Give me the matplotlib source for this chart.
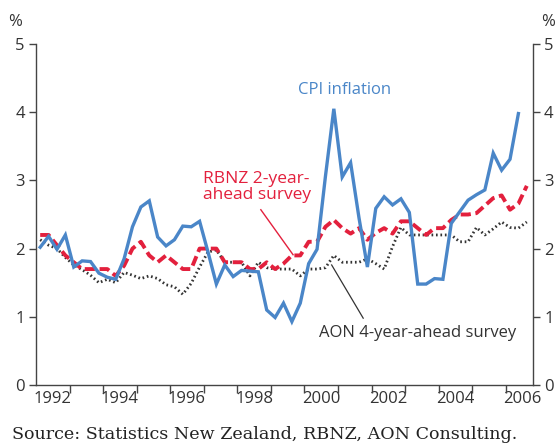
import numpy as np
import matplotlib
matplotlib.use('Agg')
import matplotlib.pyplot as plt
from matplotlib.ticker import FixedLocator, NullFormatter

# 字体
plt.rcParams['font.family'] = ['Open Sans', 'DejaVu Sans']

# 季度数据，从 1992 Q1 开始
cpi = [2.02, 2.18, 1.99, 2.20, 1.73, 1.82, 1.81, 1.64, 1.58, 1.55,
       1.85, 2.32, 2.61, 2.70, 2.17, 2.04, 2.13, 2.33, 2.32, 2.40,
       1.95, 1.48, 1.76, 1.59, 1.68, 1.67, 1.66, 1.10, 0.99, 1.20,
       0.93, 1.20, 1.78, 1.99, 3.06, 4.05, 3.05, 3.26, 2.45, 1.73,
       2.59, 2.76, 2.64, 2.73, 2.53, 1.48, 1.48, 1.56, 1.55, 2.37,
       2.54, 2.71, 2.79, 2.86, 3.40, 3.15, 3.31, 3.98]
rbnz = [2.20, 2.20, 2.05, 1.90, 1.80, 1.70, 1.70, 1.70, 1.70, 1.60,
        1.75, 2.00, 2.10, 1.90, 1.80, 1.90, 1.80, 1.70, 1.70, 2.00,
        2.00, 2.00, 1.80, 1.80, 1.80, 1.70, 1.70, 1.80, 1.70, 1.78,
        1.90, 1.90, 2.10, 2.10, 2.32, 2.42, 2.30, 2.22, 2.30, 2.13,
        2.23, 2.30, 2.22, 2.40, 2.40, 2.30, 2.20, 2.30, 2.30, 2.42,
        2.50, 2.50, 2.52, 2.63, 2.74, 2.78, 2.57, 2.66, 2.92]
aon = [2.13, 2.05, 2.00, 1.87, 1.76, 1.69, 1.61, 1.50, 1.55, 1.50,
       1.65, 1.61, 1.56, 1.60, 1.56, 1.47, 1.44, 1.33, 1.49, 1.73,
       1.95, 1.98, 1.80, 1.80, 1.80, 1.60, 1.80, 1.72, 1.70, 1.70,
       1.70, 1.60, 1.70, 1.70, 1.72, 1.90, 1.80, 1.80, 1.80, 1.85,
       1.78, 1.70, 2.03, 2.31, 2.20, 2.20, 2.20, 2.20, 2.20, 2.20,
       2.10, 2.10, 2.31, 2.20, 2.29, 2.39, 2.31, 2.30, 2.39]
year_labels = ['1992', '1994', '1996', '1998', '2000', '2002', '2004', '2006']

# 季度中点
t_cpi = 1992 + (np.arange(len(cpi)) + 0.5) / 4
t_srv = 1992 + (np.arange(len(rbnz)) + 0.5) / 4

blue = '#4a86c8'
red = '#e3203d'
dark = '#333333'

fig = plt.figure(figsize=(5.6, 4.48), dpi=100)
ax = fig.add_axes([36 / 560, 63 / 448, 497 / 560, 341 / 448])

ax.plot(t_srv, aon, color=dark, lw=2.0, linestyle=(0, (0.6, 1.0)))
ax.plot(t_srv, rbnz, color=red, lw=2.8, linestyle=(0, (2.6, 1.2)))
ax.plot(t_cpi, cpi, color=blue, lw=2.4, solid_joinstyle='miter')

ax.set_xlim(1992, 2006.81)
ax.set_ylim(0, 5)

# 坐标轴样式
for side in ['left', 'right', 'bottom']:
    ax.spines[side].set_color('#444444')
    ax.spines[side].set_linewidth(1.0)
ax.spines['top'].set_visible(False)

ax.set_yticks([0, 1, 2, 3, 4, 5])
ax.tick_params(axis='y', which='both', left=True, right=True, labelleft=True,
               labelright=True, direction='out', length=5, width=1,
               color='#444444', labelsize=12, labelcolor=dark, pad=3)

# 年份刻度在年初，标签在年中
ax.xaxis.set_minor_locator(FixedLocator(np.arange(1993, 2007)))
ax.xaxis.set_minor_formatter(NullFormatter())
ax.set_xticks([int(y) + 0.5 for y in year_labels])
ax.set_xticklabels(year_labels)
ax.tick_params(axis='x', which='major', length=0, labelsize=12,
               labelcolor=dark, pad=4)
ax.tick_params(axis='x', which='minor', direction='out', length=6,
               width=1, color='#444444')

# 标注
ax.text(2001.2, 4.33, 'CPI inflation', color=blue, fontsize=12,
        ha='center', va='center')
ax.text(1996.97, 2.9, 'RBNZ 2-year-\nahead survey', color=red, fontsize=12.5,
        ha='left', va='center', linespacing=1.0)
ax.plot([1998.70, 1999.66], [2.57, 1.91], color=red, lw=1.0)
ax.text(2000.43, 0.76, 'AON 4-year-ahead survey', color=dark, fontsize=12,
        ha='left', va='center')
ax.plot([2000.81, 2001.75], [1.76, 0.98], color=dark, lw=0.9)

fig.text(15 / 560, 1 - 22 / 448, '%', fontsize=12, color=dark,
         ha='center', va='center')
fig.text(548 / 560, 1 - 22 / 448, '%', fontsize=12, color=dark,
         ha='center', va='center')

fig.text(12 / 560, 9 / 448, 'Source: Statistics New Zealand, RBNZ, AON Consulting.',
         family='DejaVu Serif', fontsize=12.6, color='#222222',
         ha='left', va='baseline')

fig.savefig('out.png', dpi=100)
